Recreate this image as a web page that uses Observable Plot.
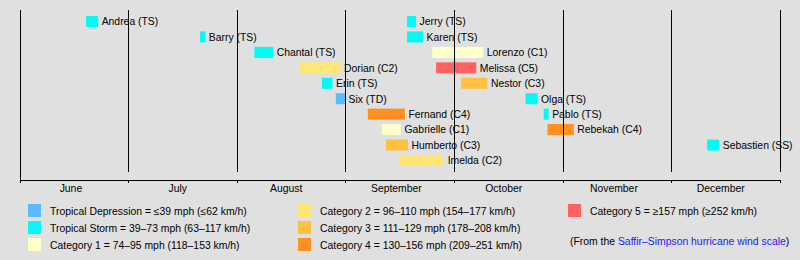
<!DOCTYPE html>
<html><head><meta charset="utf-8">
<script src="https://cdn.jsdelivr.net/npm/d3@7"></script>
<script src="https://cdn.jsdelivr.net/npm/@observablehq/plot@0.6"></script>
<style>
html,body{margin:0;padding:0;background:#e0e0e0;}
#wrap{position:relative;width:800px;height:260px;overflow:hidden;font-family:"Liberation Sans",Arial,sans-serif;color:#000;}
#legend{position:absolute;left:0;top:200px;width:800px;height:60px;font-size:10.4px;}
.item{position:absolute;display:flex;align-items:center;height:13px;white-space:nowrap;line-height:13px;}
.sw{width:13px;height:13px;margin-right:9px;flex:none;}
.txt{position:relative;top:1px;}
a{color:#1a1aff;text-decoration:none;}
</style></head><body><div id="wrap"><div id="chart"></div><div id="legend"></div></div>
<script>
// ---- data ----
const stormNames = ["Andrea","Barry","Chantal","Dorian","Erin","Six","Fernand","Gabrielle","Humberto","Imelda",
  "Jerry","Karen","Lorenzo","Melissa","Nestor","Olga","Pablo","Rebekah","Sebastien"];
const stormCats = ["TS","TS","TS","C2","TS","TD","C4","C1","C3","C2",
  "TS","TS","C1","C5","C3","TS","TS","C4","SS"];
const stormRows = [0,1,2,3,4,5,6,7,8,9, 0,1,2,3,4,5,6,7,8];
const stormStart = ["2019-06-19T09:00","2019-07-21T12:00","2019-08-06T00:00","2019-08-19T00:00","2019-08-25T09:00",
  "2019-08-29T09:00","2019-09-07T07:00","2019-09-11T04:00","2019-09-12T07:00","2019-09-16T03:00",
  "2019-09-18T02:00","2019-09-18T02:00","2019-09-25T00:00","2019-09-26T02:00","2019-10-03T00:00",
  "2019-10-21T08:00","2019-10-26T12:00","2019-10-27T14:00","2019-12-11T07:00"];
const stormEnd = ["2019-06-22T17:00","2019-07-23T00:00","2019-08-11T09:00","2019-08-30T17:00","2019-08-28T10:00",
  "2019-09-01T00:00","2019-09-17T12:00","2019-09-16T10:00","2019-09-18T08:00","2019-09-28T07:00",
  "2019-09-20T13:00","2019-09-22T12:00","2019-10-09T08:00","2019-10-07T08:00","2019-10-10T12:00",
  "2019-10-24T18:00","2019-10-27T22:00","2019-11-04T00:00","2019-12-14T17:00"];

const monthStarts = ["2019-06-01","2019-07-01","2019-08-01","2019-09-01","2019-10-01","2019-11-01","2019-12-01","2020-01-01"];
const monthNames = ["June","July","August","September","October","November","December"];
const monthMids = ["2019-06-15","2019-07-15","2019-08-15","2019-09-15","2019-10-15","2019-11-15","2019-12-15"];

const catKeys = ["TD","TS","SS","C1","C2","C3","C4","C5"];
const catColors = ["#5ebaff","#00faf4","#00faf4","#ffffcc","#ffe775","#ffc140","#ff8f20","#ff6060"];

const legendKeys = ["TD","TS","C1","C2","C3","C4","C5"];
const legendColors = ["#5ebaff","#00faf4","#ffffcc","#ffe775","#ffc140","#ff8f20","#ff6060"];
const legendTexts = [
  "Tropical Depression = ≤39 mph (≤62 km/h)",
  "Tropical Storm = 39–73 mph (63–117 km/h)",
  "Category 1 = 74–95 mph (118–153 km/h)",
  "Category 2 = 96–110 mph (154–177 km/h)",
  "Category 3 = 111–129 mph (178–208 km/h)",
  "Category 4 = 130–156 mph (209–251 km/h)",
  "Category 5 = ≥157 mph (≥252 km/h)"
];

// ---- build tables ----
const parse = s => new Date(s + (s.length === 10 ? "T00:00Z" : "Z"));
const storms = stormNames.map((n, i) => ({
  name: n, cat: stormCats[i], row: stormRows[i],
  start: parse(stormStart[i]), end: parse(stormEnd[i]),
  label: `${n} (${stormCats[i]})`
}));
const starts = monthStarts.map(parse);
const months = monthNames.map((m, i) => ({name: m, mid: parse(monthMids[i])}));

const axisLine = (index, scales, values, dim) => {
  const y = dim.height - dim.marginBottom + 0.5;
  const x0 = scales.x(starts[0]), x1 = scales.x(starts[starts.length - 1]) + 1;
  return d3.create("svg:line").attr("x1", x0).attr("x2", x1).attr("y1", y).attr("y2", y)
    .attr("stroke", "black").attr("stroke-width", 1).node();
};

const chart = Plot.plot({
  width: 800, height: 200,
  marginTop: 10, marginBottom: 20, marginLeft: 20, marginRight: 20,
  style: {background: "transparent", fontFamily: "\"Liberation Sans\", Arial, sans-serif", fontSize: "10.4px", color: "black"},
  x: {type: "utc", domain: starts, range: [20,128,237,345,454,563,671,780],
      ticks: starts, tickSize: 3, tickFormat: () => "", label: null},
  y: {type: "band", domain: d3.range(10), range: [16, 166], paddingInner: 0.285, paddingOuter: 0, round: false, axis: null},
  color: {domain: catKeys, range: catColors},
  marks: [
    Plot.barX(storms, {x1: "start", x2: "end", y: "row", fill: "cat"}),
    Plot.text(storms, {x: "end", y: "row", text: "label", textAnchor: "start", dx: 3, fontSize: 10.4, fill: "black"}),
    Plot.ruleX(starts.slice(1), {x: d => d, stroke: "black", insetBottom: 8}),
    Plot.ruleX(starts.slice(0, 1), {x: d => d, stroke: "black"}),
    axisLine,
    Plot.text(months, {x: "mid", text: "name", frameAnchor: "bottom", dy: 11, fontSize: 10.4, fill: "black"})
  ]
});
document.getElementById("chart").appendChild(chart);

// ---- legend ----
const legend = document.getElementById("legend");
const colLeft = [28, 298, 568], rowTop = [4, 21, 38];
legendKeys.forEach((k, i) => {
  const c = Math.floor(i / 3), r = i % 3;
  const it = document.createElement("div");
  it.className = "item";
  it.style.left = colLeft[c] + "px";
  it.style.top = rowTop[r] + "px";
  const sw = document.createElement("div");
  sw.className = "sw"; sw.style.background = legendColors[i];
  const tx = document.createElement("span");
  tx.className = "txt"; tx.textContent = legendTexts[i];
  it.appendChild(sw); it.appendChild(tx);
  legend.appendChild(it);
});
const note = document.createElement("div");
note.className = "item";
note.style.left = "570px"; note.style.top = "34px";
note.innerHTML = '<span class="txt">(From the <a href="#">Saffir–Simpson hurricane wind scale</a>)</span>';
legend.appendChild(note);
</script>
</body></html>
